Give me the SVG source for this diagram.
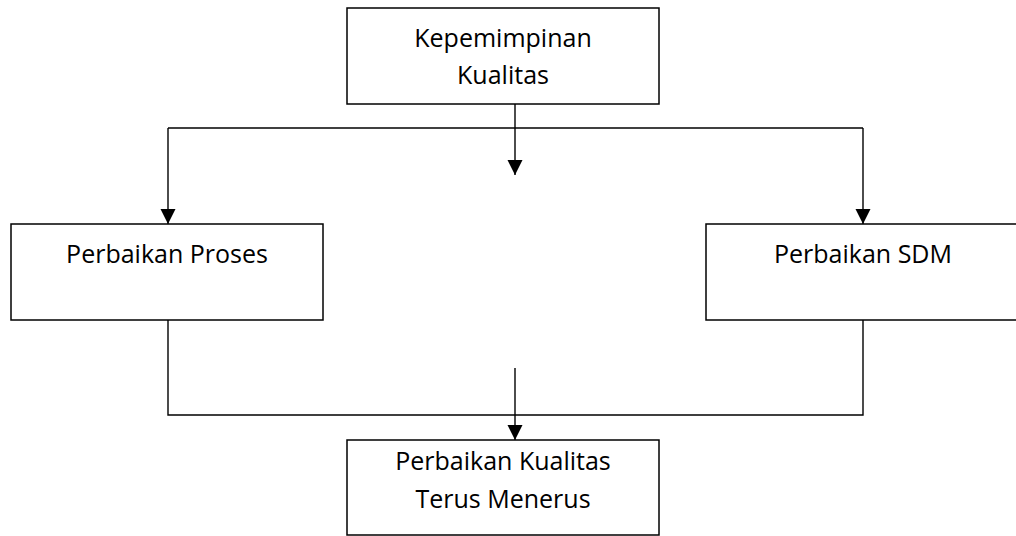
<svg xmlns="http://www.w3.org/2000/svg" width="1016" height="536" viewBox="0 0 1016 536">
<defs>
<style>
.box{fill:#fff;stroke:#000;stroke-width:1.5}
.ln{fill:none;stroke:#000;stroke-width:1.4}
.t{font-family:"Open Sans","Noto Sans","Liberation Sans",sans-serif;font-size:25px;fill:#000;text-anchor:middle}
</style>
<marker id="ah" markerUnits="userSpaceOnUse" markerWidth="16" markerHeight="16" viewBox="0 0 16 16" refX="15" refY="8" orient="auto">
<path d="M0,0.5 L15,8 L0,15.5 Z" fill="#000"/>
</marker>
</defs>
<rect width="1016" height="536" fill="#fff"/>
<g id="connectors">
<line class="ln" x1="515" y1="104" x2="515" y2="175" marker-end="url(#ah)"/>
<line class="ln" x1="168" y1="128" x2="863" y2="128"/>
<line class="ln" x1="168" y1="128" x2="168" y2="224" marker-end="url(#ah)"/>
<line class="ln" x1="863" y1="128" x2="863" y2="224" marker-end="url(#ah)"/>
<polyline class="ln" points="168,320 168,415 863,415 863,320"/>
<line class="ln" x1="515" y1="368" x2="515" y2="440" marker-end="url(#ah)"/>
</g>
<g id="node-top">
<rect class="box" x="347" y="8" width="312" height="96"/>
<text class="t" x="503" y="47">Kepemimpinan</text>
<text class="t" x="503" y="84">Kualitas</text>
</g>
<g id="node-left">
<rect class="box" x="11" y="224" width="312" height="96"/>
<text class="t" x="167" y="263">Perbaikan Proses</text>
</g>
<g id="node-right">
<rect class="box" x="706" y="224" width="320" height="96"/>
<text class="t" x="863" y="263">Perbaikan SDM</text>
</g>
<g id="node-bottom">
<rect class="box" x="347" y="440" width="312" height="95"/>
<text class="t" x="503" y="470">Perbaikan Kualitas</text>
<text class="t" x="503" y="508">Terus Menerus</text>
</g>
</svg>
